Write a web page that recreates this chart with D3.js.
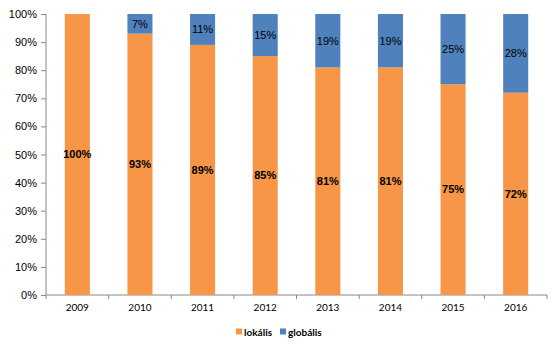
<!DOCTYPE html>
<html>
<head>
<meta charset="utf-8">
<script src="https://cdn.jsdelivr.net/npm/d3@7"></script>
<style>
  body { margin: 0; background: #fff; }
  .yaxis text { font-family: "Liberation Sans", Arial, sans-serif; font-size: 11px; fill: #000; }
  .xaxis text { font-family: Lato, "Open Sans", sans-serif; font-size: 10px; fill: #000; }
  .domain, .tick line { stroke: #888; }
</style>
</head>
<body>
<div id="chart"></div>
<script>
// data
const years = ["2009", "2010", "2011", "2012", "2013", "2014", "2015", "2016"];
const lokalis = [100, 93, 89, 85, 81, 81, 75, 72];
const globalis = [0, 7, 11, 15, 19, 19, 25, 28];
const yTicks = [0, 10, 20, 30, 40, 50, 60, 70, 80, 90, 100];
const seriesNames = ["lokális", "globális"];
const colors = ["#F79646", "#4F81BD"];

function getConfig() {
  let width = 560;
  let height = 350;
  let margin = { top: 14, bottom: 55, left: 46, right: 13 };
  let bodyWidth = width - margin.left - margin.right;
  let bodyHeight = height - margin.top - margin.bottom;
  let container = d3.select("#chart").append("svg")
    .attr("width", width)
    .attr("height", height);
  return { width, height, margin, bodyWidth, bodyHeight, container };
}

function getScales(config) {
  let { bodyWidth, bodyHeight } = config;
  let xScale = d3.scaleBand()
    .domain(years)
    .range([0, bodyWidth])
    .paddingInner(0.6)
    .paddingOuter(0.3);
  let yScale = d3.scaleLinear()
    .domain([0, 100])
    .range([bodyHeight, 0]);
  return { xScale, yScale };
}

function drawChart() {
  let config = getConfig();
  let { margin, container, bodyHeight, bodyWidth } = config;
  let { xScale, yScale } = getScales(config);

  let body = container.append("g")
    .attr("transform", "translate(" + margin.left + "," + margin.top + ")");

  // y axis
  body.append("g")
    .attr("class", "yaxis")
    .call(d3.axisLeft(yScale).tickValues(yTicks).tickFormat(d => d + "%").tickSize(5).tickPadding(4))
    .call(g => g.select(".domain").attr("d", "M0," + bodyHeight + "V0"));

  // x axis, ticks between the categories
  let xAxis = body.append("g")
    .attr("class", "xaxis")
    .attr("transform", "translate(0," + bodyHeight + ")")
    .call(d3.axisBottom(xScale).tickSize(0).tickPadding(9));
  xAxis.select(".domain").attr("d", "M0,0H" + bodyWidth);
  let step = xScale.step();
  let bounds = d3.range(years.length + 1).map(i => i * bodyWidth / years.length);
  xAxis.selectAll(".sep").data(bounds).enter().append("line")
    .attr("class", "sep")
    .attr("x1", d => d).attr("x2", d => d)
    .attr("y1", 0).attr("y2", 4)
    .attr("stroke", "#888");

  let rows = years.map((y, i) => ({ year: y, lok: lokalis[i], glob: globalis[i] }));
  let bw = xScale.bandwidth();

  // orange bars
  body.selectAll(".rectLok").data(rows).enter().append("rect")
    .attr("class", "rectLok")
    .attr("x", d => xScale(d.year))
    .attr("y", d => yScale(d.lok))
    .attr("width", bw)
    .attr("height", d => bodyHeight - yScale(d.lok))
    .attr("fill", colors[0]);

  // blue bars on top
  body.selectAll(".rectGlob").data(rows.filter(d => d.glob > 0)).enter().append("rect")
    .attr("class", "rectGlob")
    .attr("x", d => xScale(d.year))
    .attr("y", d => yScale(d.lok + d.glob))
    .attr("width", bw)
    .attr("height", d => yScale(d.lok) - yScale(d.lok + d.glob))
    .attr("fill", colors[1]);

  // labels
  body.selectAll(".lblLok").data(rows).enter().append("text")
    .attr("x", d => xScale(d.year) + bw / 2)
    .attr("y", d => yScale(d.lok / 2))
    .attr("dy", "0.35em")
    .attr("text-anchor", "middle")
    .style("font-family", "Liberation Sans, Arial, sans-serif")
    .style("font-size", "11px")
    .style("font-weight", "bold")
    .text(d => d.lok + "%");

  body.selectAll(".lblGlob").data(rows.filter(d => d.glob > 0)).enter().append("text")
    .attr("x", d => xScale(d.year) + bw / 2)
    .attr("y", d => yScale(d.lok + d.glob / 2))
    .attr("dy", "0.35em")
    .attr("text-anchor", "middle")
    .style("font-family", "Liberation Sans, Arial, sans-serif")
    .style("font-size", "11px")
    .text(d => d.glob + "%");

  // legend
  let legend = container.append("g").attr("transform", "translate(236,332)");
  let offsets = [0, 44];
  seriesNames.forEach((name, i) => {
    let item = legend.append("g").attr("transform", "translate(" + offsets[i] + ",0)");
    item.append("rect").attr("x", 0).attr("y", -3.5).attr("width", 6).attr("height", 6).attr("fill", colors[i]);
    item.append("text")
      .attr("x", 8).attr("y", 0).attr("dy", "0.35em")
      .style("font-family", "Lato, 'Open Sans', sans-serif")
      .style("font-size", "10px")
      .style("font-weight", "bold")
      .text(name);
  });
}

drawChart();
</script>
</body>
</html>
